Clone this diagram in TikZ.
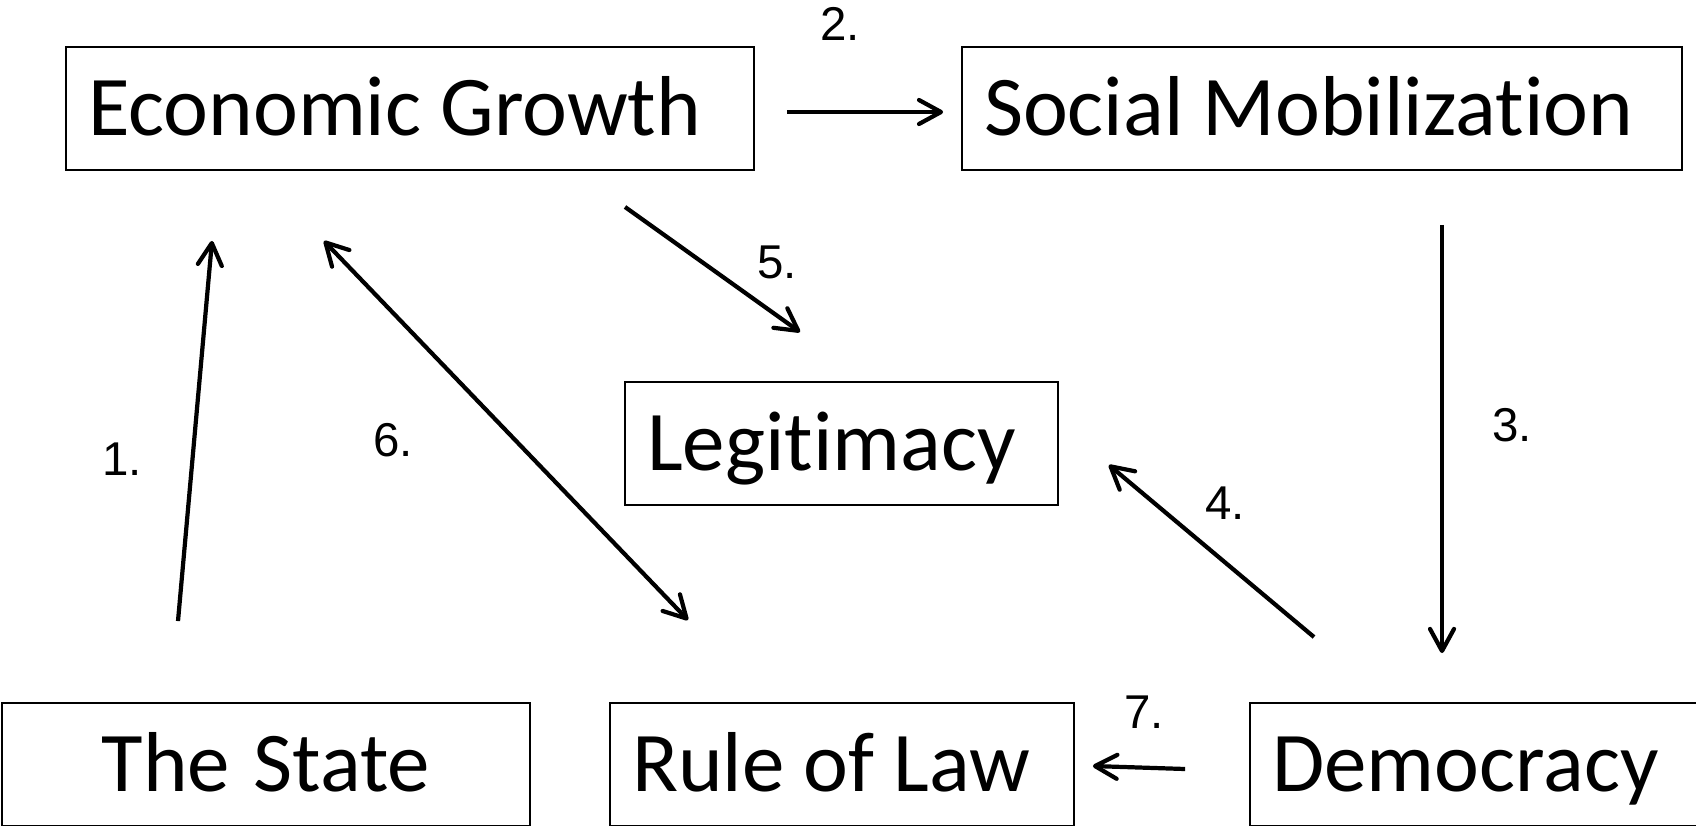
\documentclass[tikz,border=0pt]{standalone}
\usepackage{fontspec}
\setmainfont{Carlito}[Ligatures=NoCommon]
\newfontfamily\numfont{Liberation Sans}
\usetikzlibrary{arrows.meta,calc}

\tikzset{
  box/.style={draw, line width=1.1pt, minimum height=2.46cm, inner xsep=0.44cm,
    text height=31.2pt, text depth=0pt, align=left, font=\fontsize{48.4}{56}\selectfont,
    execute at begin node={\spaceskip=0pt\xspaceskip=0pt}},
  link/.style={line width=2.4pt, ->},
  num/.style={font=\numfont\fontsize{27}{32}\selectfont},
}

\begin{document}
\begin{tikzpicture}[x=0.02cm, y=-0.02cm, >={Straight Barb[length=4.4mm,width=4.8mm,round]}]
            \useasboundingbox (0,0) rectangle (1696,825);
            \clip (0,0) rectangle (1696,825);

            \node[box, text width=12.88cm] (growth) at (410,108.5) {Economic Growth};
            \node[box, text width=13.52cm] (mobil) at (1322,108.5) {Social Mobilization};
            \node[box, text width=7.78cm] (legit) at (841.5,443.5) {Legitimacy};
            \node[box, text width=9.68cm, align=center] (state) at (266,764.5) {The State};
            \node[box, text width=8.4cm] (law) at (842,764.5) {Rule of Law};
            \node[box, text width=8.52cm] (demo) at (1485,764.5) {Democracy};

            \draw[link] ($(state.north)+(-88,-81)$) -- ($(growth.south)+(-198,70)$);
            \draw[link] ($(growth.east)+(32,3.5)$) -- ($(mobil.west)+(-18,3.5)$);
            \draw[link] ($(mobil.south)+(120,54)$) -- ($(demo.north)+(-43,-49)$);
            \draw[link] ($(demo.north)+(-171,-65)$) -- ($(legit.east)+(50,21.5)$);
            \draw[link] ($(growth.south)+(215,36)$) -- ($(legit.north)+(-41.5,-49)$);
            \draw[link, <->] ($(growth.south)+(-86,70)$) -- ($(law.north)+(-154,-82)$);
            \draw[link] ($(demo.west)+(-64,4.5)$) -- ($(law.east)+(18,1.5)$);

            \node[num] (n1) at (122,459) {1.};
            \node[num] (n2) at (840,24) {2.};
            \node[num] (n3) at (1512,425) {3.};
            \node[num] (n4) at (1225,503) {4.};
            \node[num] (n5) at (777,262) {5.};
            \node[num] (n6) at (393,440) {6.};
            \node[num] (n7) at (1144,712) {7.};
\end{tikzpicture}
\end{document}
